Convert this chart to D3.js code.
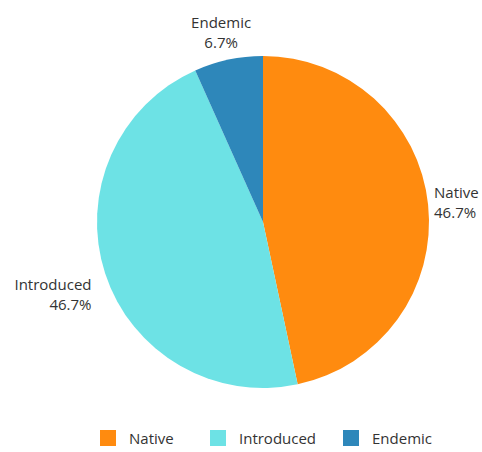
<!DOCTYPE html>
<html>
<head>
<meta charset="utf-8">
<script src="https://cdn.jsdelivr.net/npm/d3@7/dist/d3.min.js"></script>
<style>
  html, body { margin: 0; padding: 0; background: #fff; }
  svg { display: block; font-family: "Open Sans", sans-serif; }
</style>
</head>
<body>
<svg id="chart" width="482" height="452"></svg>
<script>
// Species origin breakdown
const categories = ["Native", "Introduced", "Endemic"];
const values = [46.7, 46.7, 6.7];
const colors = ["#FF8B0F", "#6DE2E5", "#2E87BA"];

const svg = d3.select("#chart");
const cx = 263, cy = 222, radius = 166;
const fontSize = 15;

const data = categories.map((c, i) => ({ name: c, value: values[i], color: colors[i] }));

const pie = d3.pie().value(d => d.value).sort(null);
const arc = d3.arc().innerRadius(0).outerRadius(radius);
const arcs = pie(data);

const g = svg.append("g").attr("transform", `translate(${cx},${cy})`);

g.selectAll("path.slice")
  .data(arcs)
  .join("path")
  .attr("class", "slice")
  .attr("d", arc)
  .attr("fill", d => d.data.color);

// Outside labels: name and percentage on two lines
const labelR = radius + 6;
const lineGap = 20;
g.selectAll("text.lbl")
  .data(arcs)
  .join("text")
  .attr("class", "lbl")
  .attr("font-size", fontSize)
  .attr("fill", "#333")
  .each(function(d) {
    const a = (d.startAngle + d.endAngle) / 2;
    const s = Math.sin(a), c = Math.cos(a);
    let anchor = "middle";
    if (s > 0.5) anchor = "start";
    else if (s < -0.5) anchor = "end";
    let x = labelR * s;
    const y = -labelR * c;
    let y0;
    if (anchor === "middle") {
      x -= 6;
      y0 = y - 6 - lineGap;   // block sits above the rim
    } else {
      if (anchor === "end") x -= 8;
      y0 = y + (c < 0 ? 15 : -6);
    }
    const t = d3.select(this).attr("text-anchor", anchor);
    t.append("tspan").attr("x", x).attr("y", y0).text(d.data.name);
    t.append("tspan").attr("x", x).attr("y", y0 + lineGap).text(d3.format(".1f")(d.data.value) + "%");
  });

// Legend
const legendX = [100, 210, 343];
const legend = svg.append("g");
data.forEach((d, i) => {
  const item = legend.append("g").attr("transform", `translate(${legendX[i]},430)`);
  item.append("rect").attr("width", 16).attr("height", 16).attr("fill", d.color);
  item.append("text").attr("x", 29).attr("y", 13.5).attr("font-size", fontSize).attr("fill", "#333").text(d.name);
});
</script>
</body>
</html>
